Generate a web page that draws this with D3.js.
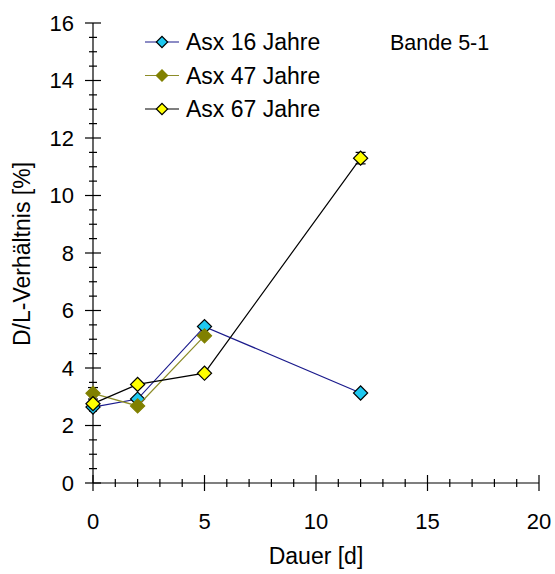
<!DOCTYPE html>
<html>
<head>
<meta charset="utf-8">
<script src="https://cdn.jsdelivr.net/npm/d3@7/dist/d3.min.js"></script>
<style>
  html, body { margin: 0; padding: 0; background: #fff; }
  svg { display: block; font-family: Arial, "Liberation Sans", sans-serif; }
</style>
</head>
<body>
<svg id="chart" width="555" height="574"></svg>
<script>
// Dauer in Tagen
const days = [0, 2, 5, 12];

// D/L-Verhältnis [%] je Probe
const asx16 = [2.64, 2.92, 5.44, 3.13];
const asx47 = [3.12, 2.68, 5.12, null];
const asx67 = [2.76, 3.43, 3.82, 11.30];

// Fehlerbalken (± halbe Spannweite), nur wo sichtbar
const err47 = [0.2, 0, 0, null];
const err67 = [0, 0, 0, 0.2];

const seriesNames = ["Asx 16 Jahre", "Asx 47 Jahre", "Asx 67 Jahre"];
const xTicks = [0, 5, 10, 15, 20];
const yTicks = [0, 2, 4, 6, 8, 10, 12, 14, 16];

const series = [
  { name: seriesNames[0], values: asx16, err: null,  line: "#1a1a8c", fill: "#1ec8f0", stroke: "#000" },
  { name: seriesNames[1], values: asx47, err: err47, line: "#8c8c28", fill: "#808000", stroke: "#808000" },
  { name: seriesNames[2], values: asx67, err: err67, line: "#000",    fill: "#ffff00", stroke: "#000" }
];

const svg = d3.select("#chart");
const x = d3.scaleLinear().domain([0, 20]).range([93, 539]);
const y = d3.scaleLinear().domain([0, 16]).range([483, 23]);

// Achsen: Striche kreuzen die Achsenlinie
const axisG = svg.append("g").attr("stroke", "#000").attr("stroke-width", 1.2);
axisG.append("line").attr("x1", x(0)).attr("x2", x(0)).attr("y1", y(16)).attr("y2", y(0));
axisG.append("line").attr("x1", x(0)).attr("x2", x(20)).attr("y1", y(0)).attr("y2", y(0));

const yMinor = d3.range(0, 16.01, 0.5).filter(v => v % 2 !== 0);
const xMinor = d3.range(0, 20.01, 1).filter(v => v % 5 !== 0);

axisG.selectAll(".ymaj").data(yTicks).join("line")
  .attr("x1", x(0) - 8).attr("x2", x(0) + 8)
  .attr("y1", d => y(d)).attr("y2", d => y(d));
axisG.selectAll(".ymin").data(yMinor).join("line")
  .attr("x1", x(0) - 4).attr("x2", x(0) + 4)
  .attr("y1", d => y(d)).attr("y2", d => y(d));
axisG.selectAll(".xmaj").data(xTicks).join("line")
  .attr("x1", d => x(d)).attr("x2", d => x(d))
  .attr("y1", y(0) - 8).attr("y2", y(0) + 8);
axisG.selectAll(".xmin").data(xMinor).join("line")
  .attr("x1", d => x(d)).attr("x2", d => x(d))
  .attr("y1", y(0) - 4).attr("y2", y(0) + 4);

svg.append("g").selectAll("text").data(yTicks).join("text")
  .attr("x", x(0) - 19).attr("y", d => y(d)).attr("dy", "0.36em")
  .attr("text-anchor", "end").attr("font-size", 22).text(d => d);
svg.append("g").selectAll("text").data(xTicks).join("text")
  .attr("x", d => x(d)).attr("y", y(0) + 46)
  .attr("text-anchor", "middle").attr("font-size", 22).text(d => d);

svg.append("text").attr("x", 316).attr("y", 564).attr("text-anchor", "middle")
  .attr("font-size", 23).text("Dauer [d]");
svg.append("text").attr("transform", "translate(30,254) rotate(-90)")
  .attr("text-anchor", "middle").attr("font-size", 23).text("D/L-Verhältnis [%]");

// Linien, Fehlerbalken und Marker je Serie
series.forEach(s => {
  const pts = days.map((d, i) => ({ d, v: s.values[i], e: s.err ? s.err[i] : 0 }))
    .filter(p => p.v != null);
  svg.append("path").datum(pts)
    .attr("fill", "none").attr("stroke", s.line).attr("stroke-width", 1.2)
    .attr("d", d3.line().x(p => x(p.d)).y(p => y(p.v)));
  const eb = svg.append("g").attr("stroke", "#000").attr("stroke-width", 1.2);
  pts.filter(p => p.e > 0).forEach(p => {
    eb.append("line").attr("x1", x(p.d)).attr("x2", x(p.d)).attr("y1", y(p.v + p.e)).attr("y2", y(p.v - p.e));
    eb.append("line").attr("x1", x(p.d) - 5).attr("x2", x(p.d) + 5).attr("y1", y(p.v + p.e)).attr("y2", y(p.v + p.e));
    eb.append("line").attr("x1", x(p.d) - 5).attr("x2", x(p.d) + 5).attr("y1", y(p.v - p.e)).attr("y2", y(p.v - p.e));
  });
  svg.append("g").selectAll("path").data(pts).join("path")
    .attr("transform", p => `translate(${x(p.d)},${y(p.v)}) rotate(45)`)
    .attr("d", d3.symbol().type(d3.symbolSquare).size(100))
    .attr("fill", s.fill).attr("stroke", s.stroke).attr("stroke-width", 1.2);
});

// Legende
const leg = svg.append("g");
series.forEach((s, i) => {
  const ly = 42 + i * 33.5;
  leg.append("line").attr("x1", 145).attr("x2", 179).attr("y1", ly).attr("y2", ly)
    .attr("stroke", s.line).attr("stroke-width", 1.2);
  leg.append("path").attr("transform", `translate(162,${ly}) rotate(45)`)
    .attr("d", d3.symbol().type(d3.symbolSquare).size(64))
    .attr("fill", s.fill).attr("stroke", s.stroke).attr("stroke-width", 1.2);
  leg.append("text").attr("x", 186).attr("y", ly).attr("dy", "0.36em")
    .attr("font-size", 23).text(s.name);
});

svg.append("text").attr("x", 390).attr("y", 42).attr("dy", "0.36em")
  .attr("font-size", 21.5).text("Bande 5-1");
</script>
</body>
</html>
